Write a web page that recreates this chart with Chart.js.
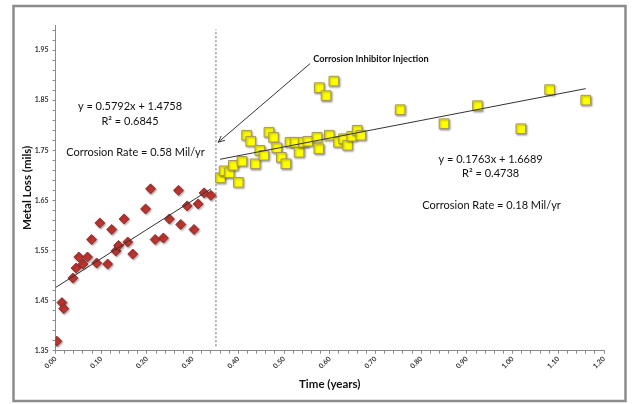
<!DOCTYPE html>
<html><head><meta charset="utf-8">
<script src="https://cdn.jsdelivr.net/npm/chart.js@4.4.1/dist/chart.umd.min.js"></script>
<style>html,body{margin:0;padding:0;background:#fff}#wrap{width:633px;height:404px;position:relative}</style>
</head><body><div id="wrap"><canvas id="c" width="633" height="404"></canvas></div>
<script>
// ---- data ----
const beforeTime = [0.003,0.014,0.018,0.038,0.045,0.051,0.060,0.070,0.079,0.090,0.097,0.114,0.123,0.132,0.138,0.150,0.158,0.169,0.197,0.208,0.218,0.236,0.249,0.269,0.274,0.288,0.303,0.312,0.325,0.340];
const beforeLoss = [1.369,1.446,1.434,1.495,1.515,1.537,1.523,1.537,1.572,1.525,1.605,1.523,1.592,1.549,1.560,1.613,1.567,1.543,1.633,1.673,1.572,1.575,1.613,1.670,1.602,1.639,1.592,1.643,1.665,1.660];
const afterTime = [0.361,0.369,0.380,0.389,0.400,0.408,0.418,0.427,0.437,0.447,0.456,0.467,0.477,0.484,0.494,0.504,0.513,0.524,0.533,0.542,0.552,0.572,0.576,0.577,0.592,0.599,0.609,0.619,0.630,0.639,0.648,0.660,0.668,0.754,0.850,0.923,1.018,1.081,1.160];
const afterLoss = [1.695,1.709,1.705,1.720,1.686,1.728,1.780,1.768,1.723,1.750,1.740,1.786,1.776,1.755,1.736,1.723,1.766,1.766,1.746,1.766,1.768,1.776,1.753,1.875,1.859,1.780,1.888,1.766,1.773,1.760,1.778,1.790,1.780,1.831,1.803,1.839,1.793,1.871,1.850];
const trendBeforeX = [0, 0.34];
const trendBeforeY = [1.476, 1.673];
const trendAfterX = [0.36, 1.16];
const trendAfterY = [1.732, 1.873];
const injectionTime = 0.351;
const injectionSpan = [1.359, 1.991];
const xTickLabels = ['0.00','0.10','0.20','0.30','0.40','0.50','0.60','0.70','0.80','0.90','1.00','1.10','1.20'];
const yTickLabels = ['1.35','1.45','1.55','1.65','1.75','1.85','1.95'];
const textBefore = ['y = 0.5792x + 1.4758','R\u00B2 = 0.6845','Corrosion Rate = 0.58 Mil/yr'];
const textAfter = ['y = 0.1763x + 1.6689','R\u00B2 = 0.4738','Corrosion Rate = 0.18 Mil/yr'];
const arrowLabel = 'Corrosion Inhibitor Injection';
const xTitle = 'Time (years)';
const yTitle = 'Metal Loss (mils)';

const pts = (xs, ys) => xs.map((x, i) => ({x, y: ys[i]}));
Chart.defaults.font.family = 'Lato, "DejaVu Sans", sans-serif';
Chart.defaults.color = '#222';

const frame = {
  id: 'frame',
  beforeDraw(chart) {
    const ctx = chart.ctx;
    ctx.save();
    ctx.fillStyle = '#fff';
    ctx.fillRect(0, 0, chart.width, chart.height);
    ctx.strokeStyle = '#8c8c8c';
    ctx.lineWidth = 2.5;
    ctx.strokeRect(13.5, 6, 612, 395);
    ctx.restore();
  }
};
const shadow = {
  id: 'shadow',
  beforeDatasetDraw(chart, args) {
    if (chart.data.datasets[args.index].shadow) {
      const ctx = chart.ctx; ctx.save();
      ctx.shadowColor = 'rgba(0,0,0,0.35)'; ctx.shadowBlur = 2;
      ctx.shadowOffsetX = 1; ctx.shadowOffsetY = 1.2;
    }
  },
  afterDatasetDraw(chart, args) {
    if (chart.data.datasets[args.index].shadow) chart.ctx.restore();
  }
};
const notes = {
  id: 'notes',
  afterDatasetsDraw(chart) {
    const ctx = chart.ctx, xs = chart.scales.x, ys = chart.scales.y;
    const X = v => xs.getPixelForValue(v), Y = v => ys.getPixelForValue(v);
    ctx.save();
    // arrow
    const x0 = X(0.557), y0 = Y(1.923), x1 = X(0.356), y1 = Y(1.766);
    ctx.strokeStyle = '#333'; ctx.lineWidth = 1;
    ctx.beginPath(); ctx.moveTo(x0, y0); ctx.lineTo(x1, y1); ctx.stroke();
    const a = Math.atan2(y0 - y1, x0 - x1), L = 7, s = 0.42;
    ctx.beginPath();
    ctx.moveTo(x1 + L*Math.cos(a+s), y1 + L*Math.sin(a+s));
    ctx.lineTo(x1, y1);
    ctx.lineTo(x1 + L*Math.cos(a-s), y1 + L*Math.sin(a-s));
    ctx.stroke();
    ctx.fillStyle = '#111';
    ctx.textBaseline = 'middle';
    ctx.font = 'bold 9.2px Lato';
    ctx.textAlign = 'left';
    ctx.fillText(arrowLabel, X(0.564), Y(1.933));
    ctx.font = '11px Lato';
    ctx.textAlign = 'center';
    ctx.fillText(textBefore[0], X(0.163), Y(1.8375));
    ctx.fillText(textBefore[1], X(0.163), Y(1.808));
    ctx.fillText(textBefore[2], X(0.175), Y(1.746));
    ctx.fillText(textAfter[0], X(0.952), Y(1.731));
    ctx.fillText(textAfter[1], X(0.952), Y(1.703));
    ctx.fillText(textAfter[2], X(0.954), Y(1.640));
    ctx.restore();
  }
};

const isLabel = (labels, v) => labels.find(l => Math.abs(parseFloat(l) - v) < 1e-6);

new Chart(document.getElementById('c'), {
  type: 'scatter',
  data: {
    datasets: [
      {type:'line', data: pts(trendBeforeX, trendBeforeY), borderColor:'#333', borderWidth:1, pointRadius:0, fill:false, order:0},
      {type:'line', data: pts(trendAfterX, trendAfterY), borderColor:'#333', borderWidth:1, pointRadius:0, fill:false, order:0},
      {data: pts(beforeTime, beforeLoss), pointStyle:'rectRot', pointRadius:5, backgroundColor:'#BC3530', borderColor:'#8A221E', borderWidth:0.8, shadow:true, order:1},
      {data: pts(afterTime, afterLoss), pointStyle:'rect', pointRadius:6.8, backgroundColor:'#FFFF00', borderColor:'#A8985A', borderWidth:1, shadow:true, order:1},
      {type:'line', data: pts([injectionTime, injectionTime], injectionSpan), borderColor:'#9a9a9a', borderWidth:1.5, borderDash:[2,2], pointRadius:0, fill:false, order:2}
    ]
  },
  options: {
    responsive: false, animation: false, devicePixelRatio: 1,
    layout: {padding: {left: 14, right: 29, top: 25, bottom: 8}},
    plugins: {legend: {display: false}, tooltip: {enabled: false}},
    scales: {
      x: {
        type: 'linear', min: 0, max: 1.2,
        afterBuildTicks(s) { const t = []; for (let i = 0; i <= 60; i++) t.push({value: Math.round(i*2)/100}); s.ticks = t; },
        afterFit(s) { s.height = 45.3; },
        ticks: {autoSkip: false, maxRotation: 45, minRotation: 45, padding: 1, font: {size: 7, weight: 'bold'}, color: '#333',
          callback: v => isLabel(xTickLabels, v) || ''},
        grid: {drawOnChartArea: false, tickLength: 3, color: '#8a8a8a'},
        border: {color: '#8a8a8a', width: 1},
        title: {display: true, text: xTitle, font: {size: 11.5, weight: 'bold'}, color: '#111', padding: {top: 0, bottom: 4.4}}
      },
      y: {
        type: 'linear', min: 1.35, max: 2.0,
        afterBuildTicks(s) { const t = []; for (let i = 0; i <= 32; i++) t.push({value: Math.round(135 + i*2)/100}); s.ticks = t; },
        afterFit(s) { s.width = 41.5; },
        ticks: {autoSkip: false, padding: 4, font: {size: 7, weight: 'bold'}, color: '#333',
          callback: v => isLabel(yTickLabels, v) || ''},
        grid: {drawOnChartArea: false, tickLength: 3, color: '#8a8a8a'},
        border: {color: '#8a8a8a', width: 1},
        title: {display: true, text: yTitle, font: {size: 11.5, weight: 'bold'}, color: '#111', padding: {top: 6, bottom: 0}}
      }
    }
  },
  plugins: [frame, shadow, notes]
});
</script></body></html>
